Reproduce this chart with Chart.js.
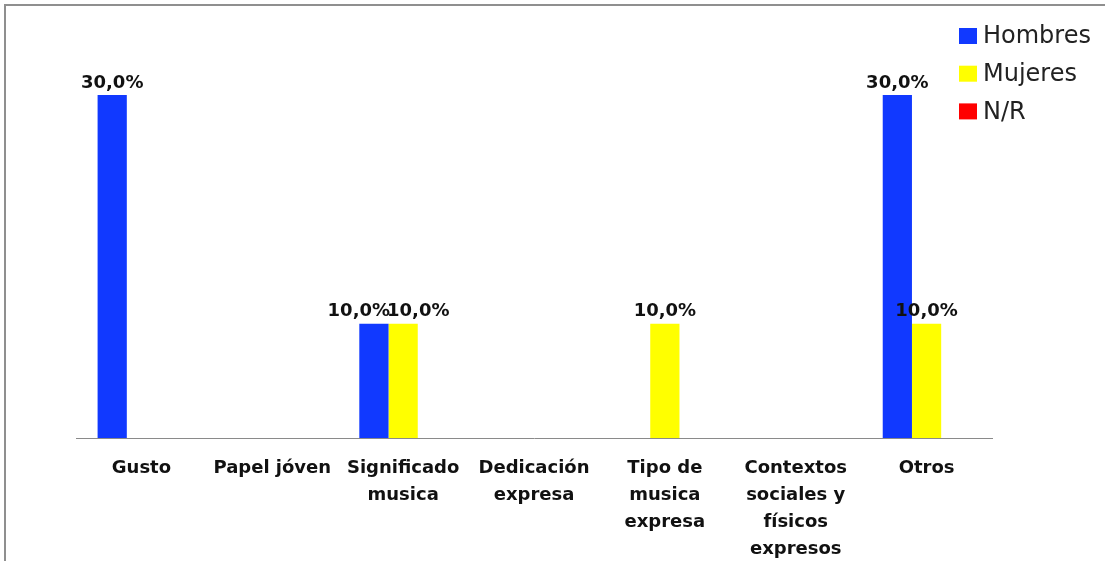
<!DOCTYPE html>
<html>
<head>
<meta charset="utf-8">
<script src="https://cdn.jsdelivr.net/npm/chart.js@4/dist/chart.umd.min.js"></script>
<style>
  html, body { margin: 0; padding: 0; background: #fff; }
  canvas { display: block; }
</style>
</head>
<body>
<canvas id="grafico" width="1105" height="561"></canvas>
<script>
// categorias y porcentajes por sexo
const categorias = [
  "Gusto",
  "Papel jóven",
  ["Significado", "musica"],
  ["Dedicación", "expresa"],
  ["Tipo de", "musica", "expresa"],
  ["Contextos", "sociales y", "físicos", "expresos"],
  "Otros"
];
const hombres = [30, 0, 10, 0, 0, 0, 30];
const mujeres = [0, 0, 10, 0, 10, 0, 10];
const noResponde = [0, 0, 0, 0, 0, 0, 0];
const series = ["Hombres", "Mujeres", "N/R"];
const colores = ["#1139ff", "#ffff00", "#ff0000"];

const FUENTE = "'DejaVu Sans', sans-serif";

function formato(v) {
  return v.toFixed(1).replace(".", ",") + "%";
}

// marco gris de la hoja
const marco = {
  id: "marco",
  beforeDraw(chart) {
    const c = chart.ctx;
    c.save();
    c.fillStyle = "#fff";
    c.fillRect(0, 0, chart.width, chart.height);
    c.strokeStyle = "#8f8f8f";
    c.lineWidth = 2;
    c.beginPath();
    c.moveTo(5, chart.height);
    c.lineTo(5, 5);
    c.lineTo(chart.width, 5);
    c.stroke();
    c.restore();
  }
};

// etiquetas de valor encima de cada barra (solo las distintas de cero)
const etiquetas = {
  id: "etiquetas",
  afterDatasetsDraw(chart) {
    const c = chart.ctx;
    c.save();
    c.font = "bold 18px " + FUENTE;
    c.fillStyle = "#111";
    c.textAlign = "center";
    c.textBaseline = "bottom";
    const cajas = [];
    chart.data.datasets.forEach((ds, i) => {
      const meta = chart.getDatasetMeta(i);
      meta.data.forEach((bar, j) => {
        const v = ds.data[j];
        if (!v) return;
        const texto = formato(v);
        cajas.push({ j, x: bar.x, y: bar.y - 3, w: c.measureText(texto).width, texto });
      });
    });
    // separar etiquetas que se pisan en la misma categoría
    for (let a = 0; a < cajas.length; a++) {
      for (let b = a + 1; b < cajas.length; b++) {
        const p = cajas[a], q = cajas[b];
        if (p.j !== q.j || Math.abs(p.y - q.y) > 10) continue;
        const solape = (p.w + q.w) / 2 - Math.abs(q.x - p.x) - 3;
        if (solape > 0) {
          const d = solape / 2 * (q.x >= p.x ? 1 : -1);
          p.x -= d;
          q.x += d;
        }
      }
    }
    cajas.forEach(k => c.fillText(k.texto, k.x, k.y));
    c.restore();
  }
};

// leyenda vertical arriba a la derecha
const leyenda = {
  id: "leyenda",
  afterDraw(chart) {
    const c = chart.ctx;
    c.save();
    c.font = "24px " + FUENTE;
    c.textBaseline = "middle";
    c.textAlign = "left";
    chart.data.datasets.forEach((ds, i) => {
      const y = 36 + i * 37.7;
      c.fillStyle = ds.backgroundColor;
      c.fillRect(959, y - 8, 18, 16);
      c.fillStyle = "#222";
      c.fillText(ds.label, 983, y + 1);
    });
    c.restore();
  }
};

const datos = [hombres, mujeres, noResponde];

new Chart(document.getElementById("grafico"), {
  type: "bar",
  data: {
    labels: categorias,
    datasets: series.map((nombre, i) => ({
      label: nombre,
      data: datos[i],
      backgroundColor: colores[i],
      borderWidth: 0,
      barPercentage: 1,
      categoryPercentage: 0.67
    }))
  },
  options: {
    responsive: false,
    animation: false,
    devicePixelRatio: 1,
    layout: { padding: { left: 76, right: 113, top: 95, bottom: 0 } },
    plugins: {
      legend: { display: false },
      tooltip: { enabled: false }
    },
    scales: {
      x: {
        grid: { display: false, drawTicks: false },
        border: { display: true, color: "#8a8a8a", width: 1 },
        ticks: {
          autoSkip: false,
          maxRotation: 0,
          padding: 17,
          color: "#111",
          font: { family: FUENTE, size: 18, weight: "bold", lineHeight: 1.5 }
        },
        afterFit(scale) { scale.height = 123; }
      },
      y: {
        display: false,
        min: 0,
        max: 30
      }
    }
  },
  plugins: [marco, etiquetas, leyenda]
});
</script>
</body>
</html>
